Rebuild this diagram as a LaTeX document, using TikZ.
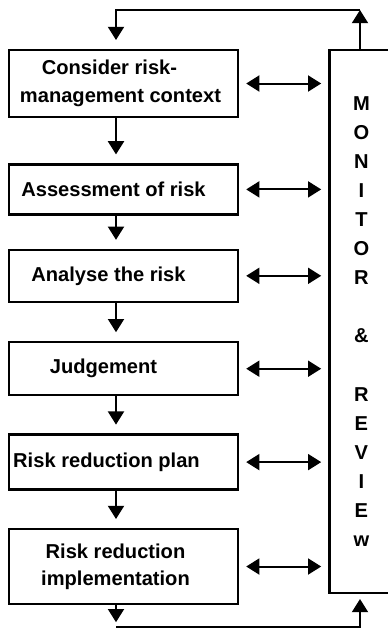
\documentclass[tikz,border=0pt]{standalone}
\usepackage{fontspec}
\setmainfont{Liberation Sans}
\usepackage{tikz}
\usetikzlibrary{positioning,arrows.meta}

\begin{document}
\begin{tikzpicture}[
    x=0.25mm, y=-0.25mm,
    font=\fontsize{14.3}{19.5}\selectfont\bfseries,
    stage/.style={draw,line width=0.6mm,minimum width=57.25mm,align=center,inner sep=1pt},
    monbox/.style={draw,line width=0.6mm,minimum width=16mm,minimum height=135.75mm,align=center,
      font=\fontsize{14.3}{20.7}\selectfont\bfseries},
    arr/.style={line width=0.5mm,-{Triangle[length=3.3mm,width=4mm]}},
    darr/.style={line width=0.5mm,{Triangle[length=3.3mm,width=4mm]}-{Triangle[length=3.3mm,width=4mm]},
      shorten <=1.75mm,shorten >=1.75mm},
    ]
    \useasboundingbox (0,0) rectangle (387,630);

    \node[stage,minimum height=16.75mm] (b1) at (123.5,83.5)
      {Consider risk-\kern7mm\\management context\kern1.5mm};
    \node[stage,minimum height=12.5mm,below=11.25mm of b1] (b2) {Assessment of risk\kern5mm};
    \node[stage,minimum height=13mm,below=8.25mm of b2] (b3) {Analyse the risk\kern7.5mm};
    \node[stage,minimum height=13.25mm,below=9.5mm of b3] (b4) {Judgement\kern10mm};
    \node[stage,minimum height=13.75mm,below=9.25mm of b4] (b5) {Risk reduction plan\kern8.5mm};
    \node[stage,minimum height=18.75mm,below=9.25mm of b5] (b6)
      {Risk reduction\kern4mm\\implementation\kern4mm};

    \node[monbox,right=22.25mm of b1.north east,anchor=north west] (mon)
      {M\\O\\N\\I\\T\\O\\R\\[7.3mm]\&\\[7.3mm]R\\E\\V\\I\\E\\w};

    % feedback loop round the top and the bottom
    \coordinate (tl) at (116,10);
    \coordinate (tr) at (360,10);
    \coordinate (bl) at (116,627);
    \coordinate (br) at (360,627);

    \foreach \a/\b in {b1/b2,b2/b3,b3/b4,b4/b5,b5/b6}
      \draw[arr,shorten >=2.2mm] (\a.south -| tl) -- (\b.north -| tl);

    \foreach \s in {b1,b2,b3,b4,b5,b6}
      \draw[darr] (\s.east) -- (\s.east -| mon.west);

    \draw[arr] (mon.north -| tr) -- (tr);
    \draw[arr,shorten >=2.2mm] (tr) -- (tl) -- (b1.north -| tl);
    \draw[arr,shorten >=1.2mm] (b6.south -| bl) -- (bl);
    \draw[arr,shorten >=1.2mm] (bl) -- (br) -- (mon.south -| br);
\end{tikzpicture}
\end{document}
